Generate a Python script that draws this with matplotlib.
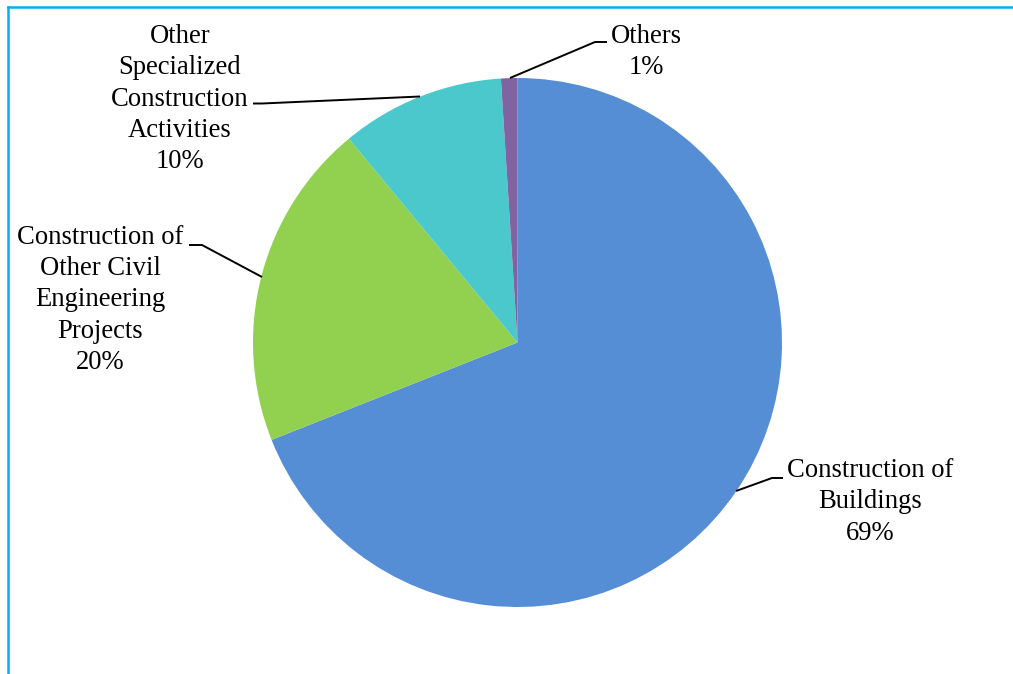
import matplotlib.pyplot as plt
from matplotlib.lines import Line2D

plt.rcParams['font.family'] = ['Liberation Serif', 'DejaVu Serif']

# activity shares (%), clockwise from 12 o'clock
names = ['Construction of\nBuildings',
         'Construction of\nOther Civil\nEngineering\nProjects',
         'Other\nSpecialized\nConstruction\nActivities',
         'Others']
shares = [69, 20, 10, 1]
colors = ['#558ED5', '#92D050', '#4AC8CC', '#8064A2']

W, H = 1013, 674
fig = plt.figure(figsize=(W / 100, H / 100), dpi=100)
ax = fig.add_axes([0, 0, 1, 1])

cx, cy, r = 517.5, H - 342.5, 264.5
ax.pie(shares, colors=colors, startangle=90, counterclock=False,
       center=(cx, cy), radius=r, frame=True,
       wedgeprops=dict(linewidth=0))
ax.set_xlim(0, W)
ax.set_ylim(0, H)
ax.set_aspect('equal')
ax.axis('off')

# label block centres and leader polylines (pixel coords, y from top)
label_pos = [(870, 502), (100, 300), (180, 99), (646, 52)]
leaders = [
    [(736, 491), (772, 478), (783, 478)],
    [(262, 277), (202, 245), (189, 245)],
    [(420, 96.5), (262, 103.5), (253, 103.5)],
    [(510, 78), (595, 42), (607, 42)],
]

for name, v, (tx, ty), pts in zip(names, shares, label_pos, leaders):
    ax.text(tx, H - ty, f'{name}\n{v}%', ha='center', va='center',
            multialignment='center', fontsize=19.2, linespacing=1.34,
            color='black')
    ax.plot([p[0] for p in pts], [H - p[1] for p in pts],
            color='black', lw=1.4, solid_capstyle='butt')

# chart-area border (left and top edges)
frame_color = '#00B0F0'
fig.add_artist(Line2D([8 / W, 8 / W], [0, 1 - 6.5 / H], color=frame_color, lw=1.8,
                      transform=fig.transFigure))
fig.add_artist(Line2D([8 / W, 1], [1 - 6.5 / H, 1 - 6.5 / H], color=frame_color, lw=1.8,
                      transform=fig.transFigure))

fig.savefig('out.png', dpi=100, facecolor='white')
